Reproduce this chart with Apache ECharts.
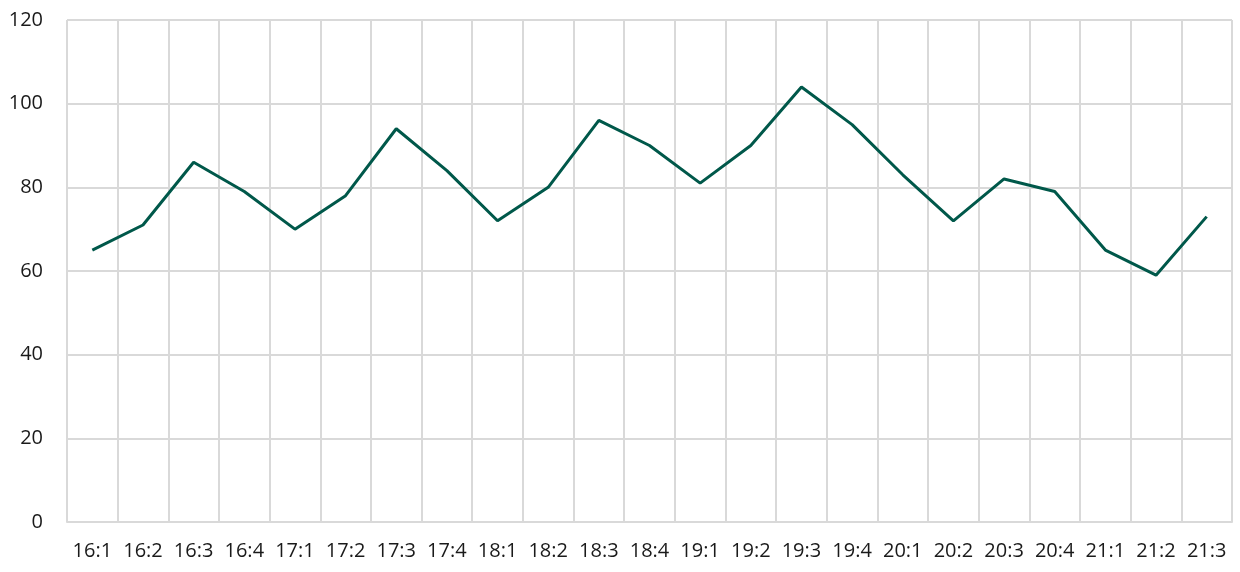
<!DOCTYPE html>
<html>
<head>
<meta charset="utf-8">
<script src="https://cdn.jsdelivr.net/npm/echarts@6/dist/echarts.min.js"></script>
<style>
  html, body { margin: 0; padding: 0; background: #fff; }
  #chart { width: 1240px; height: 572px; }
</style>
</head>
<body>
<div id="chart"></div>
<script>
// quarters
var categories = ['16:1', '16:2', '16:3', '16:4', '17:1', '17:2', '17:3', '17:4',
  '18:1', '18:2', '18:3', '18:4', '19:1', '19:2', '19:3', '19:4',
  '20:1', '20:2', '20:3', '20:4', '21:1', '21:2', '21:3'];
var values = [65, 71, 86, 79, 70, 78, 94, 84, 72, 80, 96, 90, 81, 90, 104, 95, 83, 72, 82, 79, 65, 59, 73];

var gridColor = '#d9d9d9';
var chart = echarts.init(document.getElementById('chart'));
chart.setOption({
  animation: false,
  textStyle: { fontFamily: 'Open Sans' },
  grid: { left: 67, right: 8, top: 20, bottom: 50, containLabel: false },
  xAxis: {
    type: 'category',
    data: categories,
    boundaryGap: true,
    axisLine: { lineStyle: { color: gridColor, width: 2 } },
    axisTick: { show: false },
    splitLine: { show: true, lineStyle: { color: gridColor, width: 2 } },
    axisLabel: { color: '#1a1a1a', fontSize: 20, margin: 19, interval: 0 }
  },
  yAxis: {
    type: 'value',
    min: 0,
    max: 120,
    interval: 20,
    axisLine: { show: false },
    axisTick: { show: false },
    splitLine: { lineStyle: { color: gridColor, width: 2 } },
    axisLabel: { color: '#1a1a1a', fontSize: 20, margin: 24 }
  },
  series: [{
    type: 'line',
    data: values,
    symbol: 'none',
    lineStyle: { color: '#00584a', width: 3 }
  }]
});
</script>
</body>
</html>
